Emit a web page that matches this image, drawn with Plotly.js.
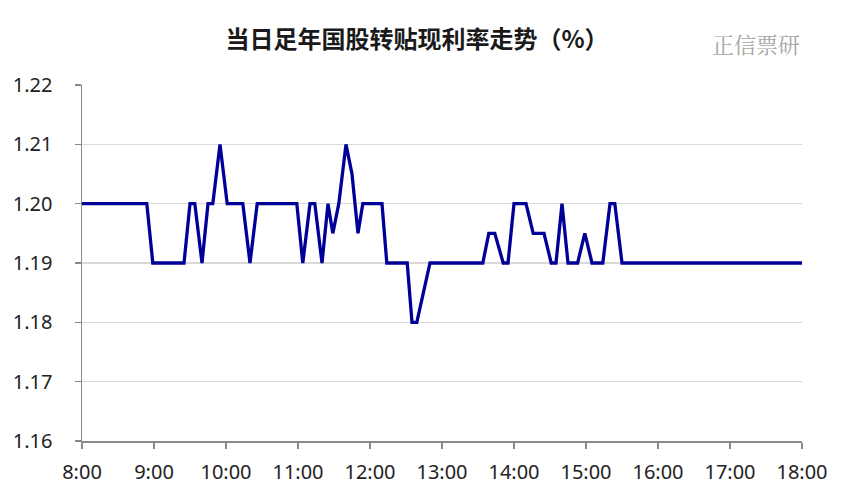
<!DOCTYPE html>
<html>
<head>
<meta charset="utf-8">
<script src="https://cdn.plot.ly/plotly-3.0.1.min.js"></script>
<style>html,body{margin:0;padding:0;background:#fff;}#chart{width:852px;height:497px;}</style>
</head>
<body>
<div id="chart"></div>
<script>
const times = ["08:00","08:54","08:59","09:25","09:30","09:34","09:40","09:45","09:49","09:55","10:01","10:14","10:20","10:26","10:59","11:04","11:10","11:14","11:20","11:25","11:29","11:34","11:40","11:45","11:50","11:54","12:10","12:14","12:31","12:35","12:39","12:50","13:34","13:39","13:44","13:51","13:55","14:00","14:10","14:16","14:25","14:31","14:35","14:40","14:45","14:53","14:59","15:05","15:14","15:20","15:24","15:30","18:00"];
const rates = [1.20,1.20,1.19,1.19,1.20,1.20,1.19,1.20,1.20,1.21,1.20,1.20,1.19,1.20,1.20,1.19,1.20,1.20,1.19,1.20,1.195,1.20,1.21,1.205,1.195,1.20,1.20,1.19,1.19,1.18,1.18,1.19,1.19,1.195,1.195,1.19,1.19,1.20,1.20,1.195,1.195,1.19,1.19,1.20,1.19,1.19,1.195,1.19,1.19,1.20,1.20,1.19,1.19];
const yTicks = [1.16,1.17,1.18,1.19,1.20,1.21,1.22];
const xTickLabels = ["8:00","9:00","10:00","11:00","12:00","13:00","14:00","15:00","16:00","17:00","18:00"];
const titleText = "当日足年国股转贴现利率走势（%）";
const watermark = "正信票研";

const day = "2024-01-02 ";
const xs = times.map(t => day + t);
const xTickVals = xTickLabels.map(l => day + (l.length < 5 ? "0" + l : l));

const trace = {
  x: xs, y: rates, type: "scatter", mode: "lines",
  line: {color: "#000099", width: 3.3},
  hoverinfo: "skip"
};

const layout = {
  width: 852, height: 497,
  margin: {l: 82, r: 50, t: 85, b: 56},
  paper_bgcolor: "#fff", plot_bgcolor: "#fff",
  showlegend: false,
  font: {family: "Noto Sans, sans-serif", color: "#222"},
  title: {
    text: "<b>" + titleText + "</b>",
    font: {family: "Noto Sans CJK SC", size: 24, color: "#1a1a1a"},
    x: 417/852, xref: "container", xanchor: "center",
    y: 1 - 40/497, yref: "container", yanchor: "middle"
  },
  xaxis: {
    type: "date",
    range: [day + "08:00", day + "18:00"],
    tickvals: xTickVals, ticktext: xTickLabels,
    showgrid: false, zeroline: false,
    showline: true, linecolor: "#898989", linewidth: 1.5,
    ticks: "outside", ticklen: 6, tickcolor: "#898989", tickwidth: 1.5,
    ticklabelstandoff: 6,
    tickfont: {family: "Noto Sans, sans-serif", size: 20, color: "#222"}
  },
  yaxis: {
    range: [1.16, 1.22],
    tickvals: yTicks, ticktext: yTicks.map(v => v.toFixed(2)),
    showgrid: true, gridcolor: "#d9d9d9", gridwidth: 1.2,
    zeroline: false,
    showline: true, linecolor: "#898989", linewidth: 1.5,
    ticks: "outside", ticklen: 6, tickcolor: "#898989", tickwidth: 1.5,
    ticklabelstandoff: 18,
    tickfont: {family: "Noto Sans, sans-serif", size: 20, color: "#222"}
  },
  annotations: [{
    text: watermark, xref: "paper", yref: "paper",
    x: (756 - 82)/720, y: 1 + (85 - 43)/356,
    xanchor: "center", yanchor: "middle", showarrow: false,
    font: {family: "Noto Serif CJK SC, Noto Sans CJK SC", size: 22, color: "#a6a6a6"}
  }]
};

Plotly.newPlot("chart", [trace], layout, {displayModeBar: false, staticPlot: true});
</script>
</body>
</html>
